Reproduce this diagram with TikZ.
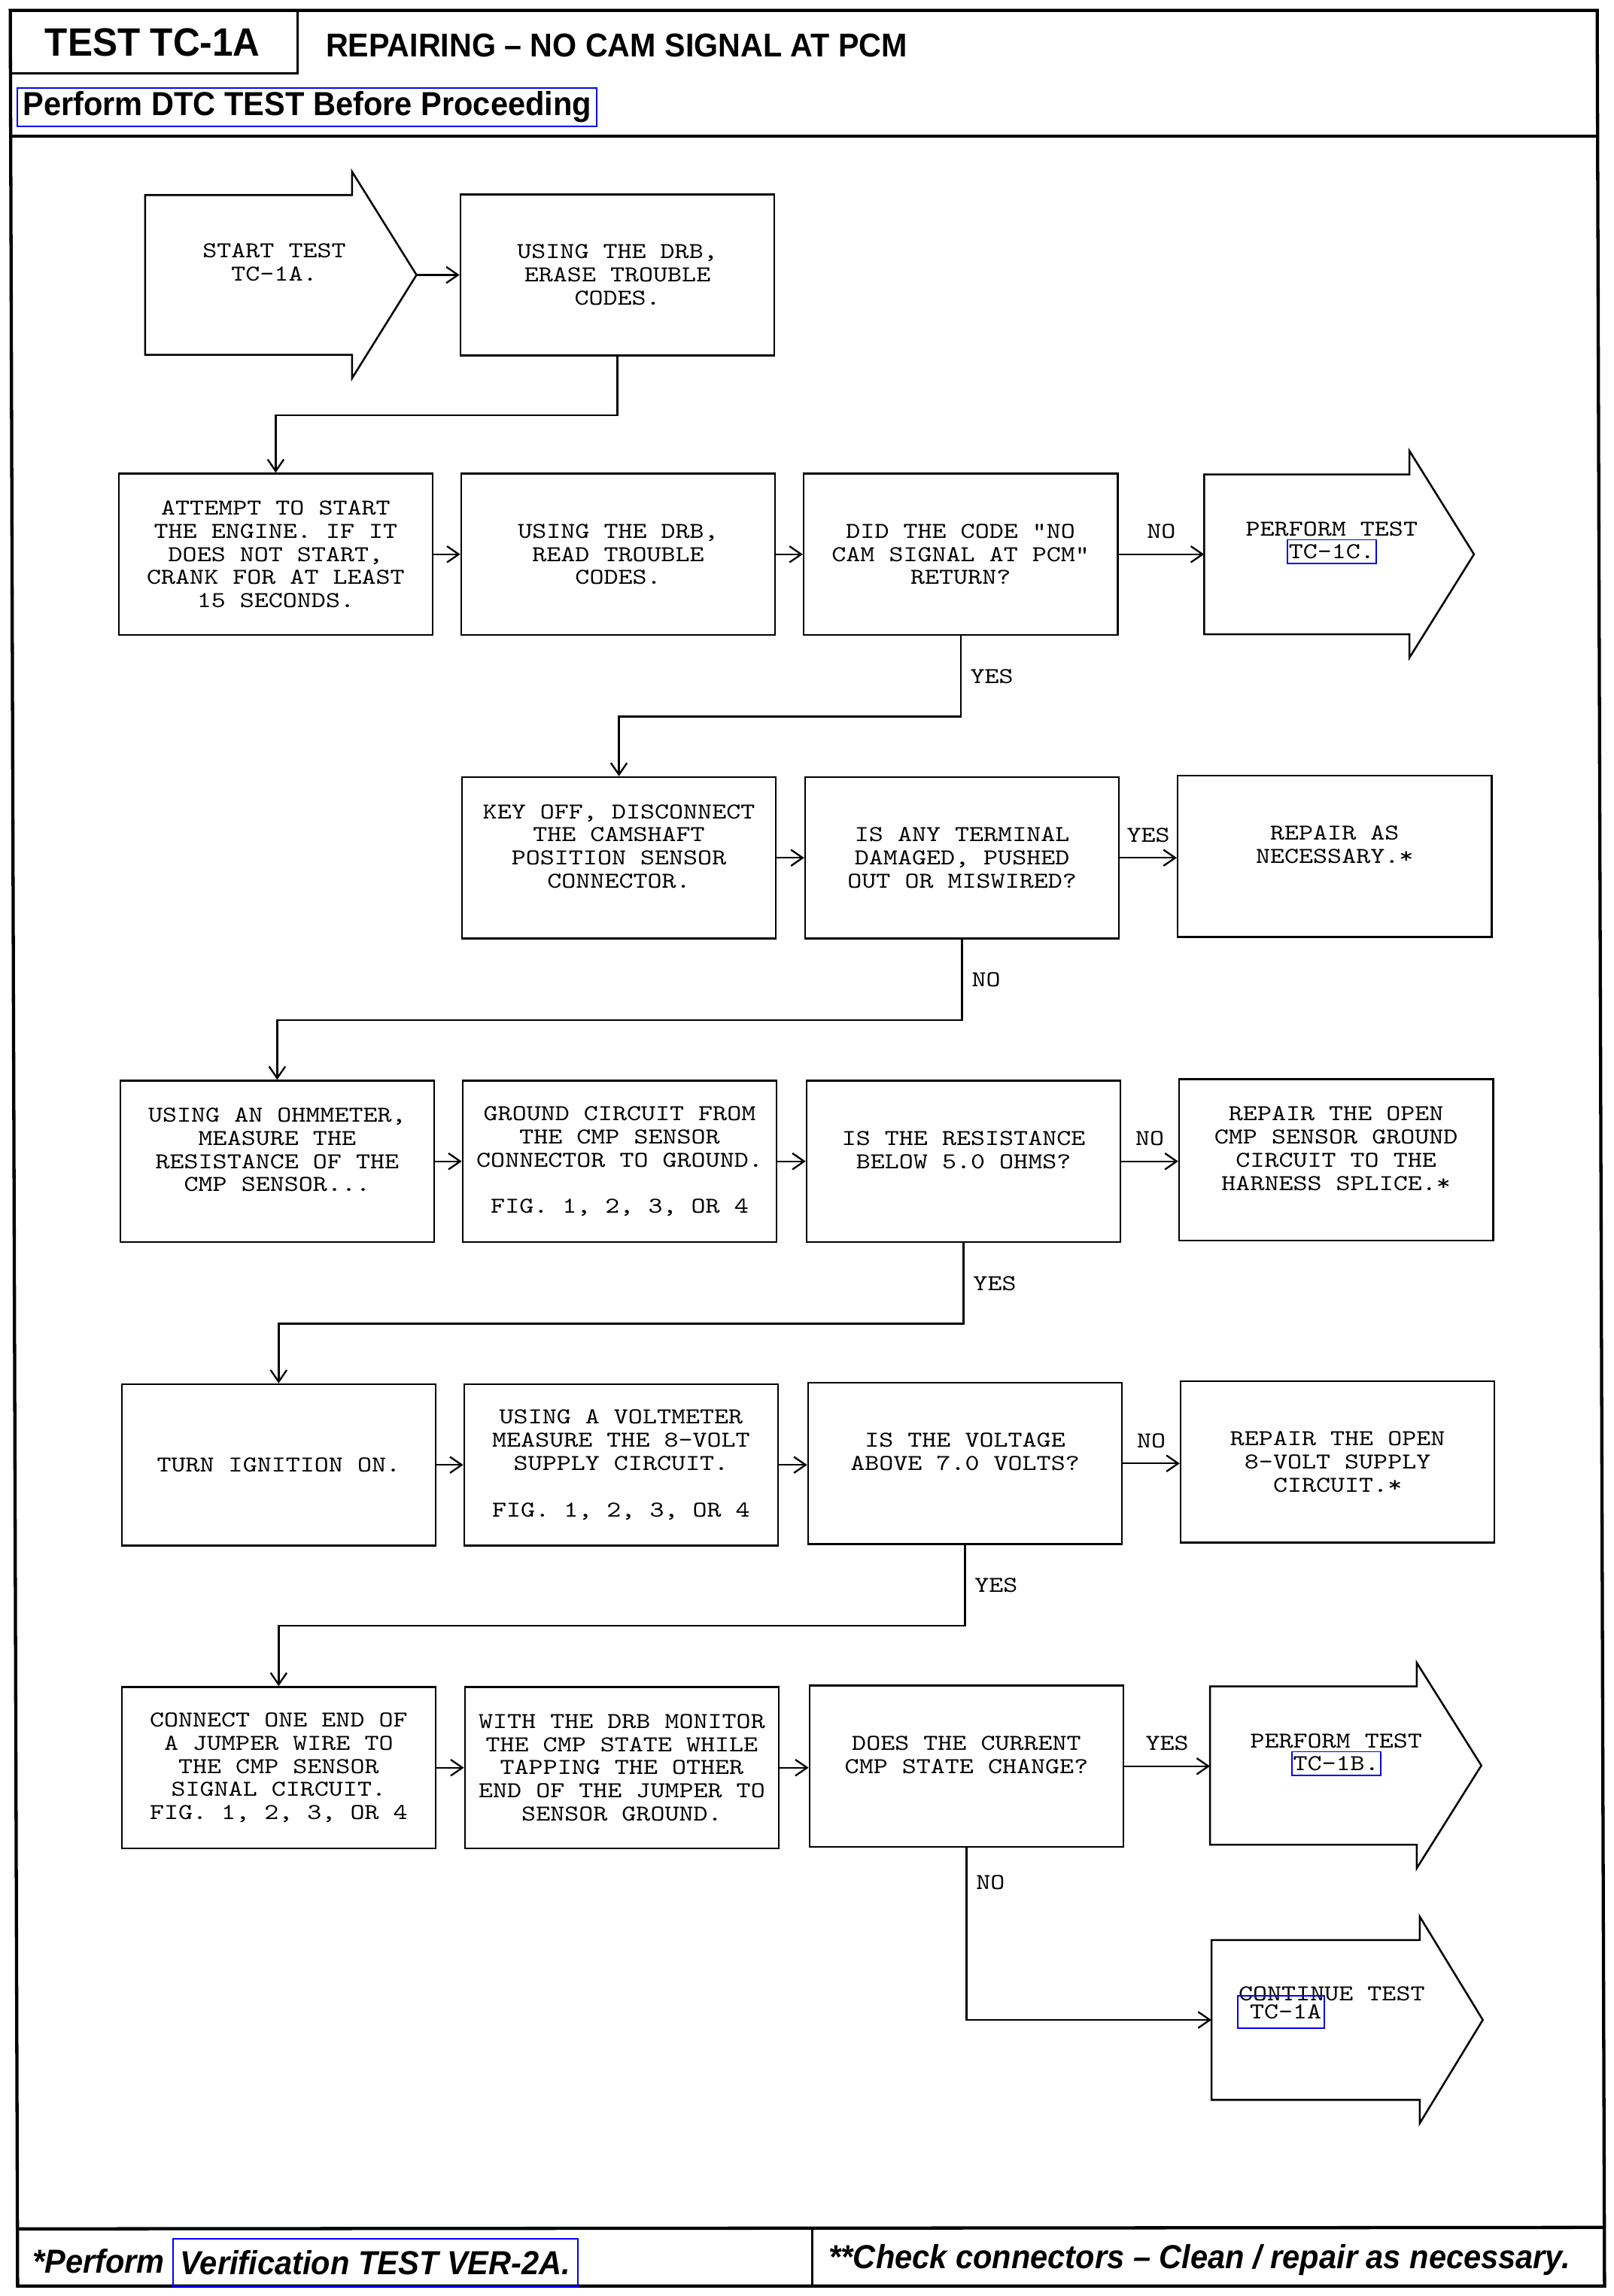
\documentclass[tikz,border=0pt]{standalone}
\usepackage{fontspec}
\usetikzlibrary{positioning,arrows.meta}
\newfontfamily\boxfont[FakeStretch=1.2]{lmmono10-regular.otf}
\newfontfamily\hdrfont[FakeStretch=0.94]{Liberation Sans}
\newcommand\boxsize{\boxfont\fontsize{15.5}{15.8}\selectfont}
\newcommand\hdrsize[1]{\hdrfont\bfseries\fontsize{#1}{#1}\selectfont}

\tikzset{
  stepbox/.style={draw, line width=1.3pt, minimum width=214pt, minimum height=110pt, inner sep=0pt, align=center, font=\boxsize},
  arrowshape/.style={draw, line width=1.3pt},
  txt/.style={inner sep=0pt, align=center, font=\boxsize},
  reflink/.style={draw=blue, line width=1pt, inner xsep=1pt, inner ysep=0pt, minimum height=16pt, font=\boxsize},
  lbl/.style={inner sep=2pt, font=\boxsize},
  flow/.style={->, line width=1.2pt},
  frame/.style={line width=2.2pt},
  hdr/.style={inner sep=0pt}
}

\begin{document}
\begin{tikzpicture}[x=1pt, y=-1pt, >={Straight Barb[length=8pt,width=11pt]}]
\useasboundingbox (0,0) rectangle (1100,1565.8);

% page frame, header and footer
\draw[frame] (7,7) -- (1089,7) -- (1094,1559) -- (12,1559) -- cycle;
\draw[frame] (7,93) -- (1089.3,93);
\draw[frame] (11.8,1520) -- (1093.9,1519);
\draw[line width=1.5pt] (554,1520) -- (554,1559);
\draw[line width=1.5pt] (7,7) rectangle (203,50);

\node[hdr, font={\hdrsize{27}}] (testid) at (104,29) {TEST TC-1A};
\node[hdr, anchor=west, font={\hdrsize{22.5}}] (ttl) at (222,31) {REPAIRING – NO CAM SIGNAL AT PCM};
\node[hdr, draw=blue, line width=1pt, minimum width=395pt, minimum height=26pt, font={\hdrsize{22.7}}] (dtc) at (209.5,73) {Perform DTC TEST Before Proceeding};

\node[hdr, anchor=base west, font={\hdrsize{22.7}\itshape}] (perf) at (22,1550) {*Perform};
\node[hdr, anchor=base, draw=blue, line width=1pt, minimum width=276pt, minimum height=32pt, font={\hdrsize{22.7}\itshape}] (ver) at (256,1551) {Verification TEST VER-2A.};
\node[hdr, anchor=base, font={\hdrsize{22.7}\itshape}] (chk) at (818,1547) {**Check connectors – Clean / repair as necessary.};

% row 1
\draw[arrowshape] (99,133) -- ++(141,0) -- ++(0,-16) -- ++(44,70.5) -- ++(-44,70.5) -- ++(0,-16) -- ++(-141,0) -- cycle;
\coordinate (starttip) at (284,187.5);
\node[txt] (start) at (187,179) {START TEST\\TC-1A.};
\node[stepbox] (B1) at (421,187.5) {USING THE DRB,\\ERASE TROUBLE\\CODES.};

% row 2
\node[stepbox] (A1) at (188,378) {ATTEMPT TO START\\THE ENGINE. IF IT\\DOES NOT START,\\CRANK FOR AT LEAST\\15 SECONDS.};
\node[stepbox] (A2) at (421.5,378) {USING THE DRB,\\READ TROUBLE\\CODES.};
\node[stepbox] (A3) at (655,378) {DID THE CODE "NO\\CAM SIGNAL AT PCM"\\RETURN?};
\draw[arrowshape] (821,323.5) -- ++(140,0) -- ++(0,-16) -- ++(44,70.5) -- ++(-44,70.5) -- ++(0,-16) -- ++(-140,0) -- cycle;
\coordinate (pfc) at (821,378);
\node[txt] (pfctxt) at (908,361) {PERFORM TEST};
\node[reflink, below=1.5pt of pfctxt] (tc1c) {TC-1C.};

% row 3
\node[stepbox] (C1) at (422,585) {KEY OFF, DISCONNECT\\THE CAMSHAFT\\POSITION SENSOR\\CONNECTOR.\\ \mbox{}};
\node[stepbox] (C2) at (656,585) {IS ANY TERMINAL\\DAMAGED, PUSHED\\OUT OR MISWIRED?};
\node[stepbox] (C3) at (910,584) {REPAIR AS\\NECESSARY.*\\ \mbox{}};

% row 4
\node[stepbox] (D1) at (189,792) {USING AN OHMMETER,\\MEASURE THE\\RESISTANCE OF THE\\CMP SENSOR...\\ \mbox{}};
\node[stepbox] (D2) at (422.5,792) {GROUND CIRCUIT FROM\\THE CMP SENSOR\\CONNECTOR TO GROUND.\\ \mbox{}\\FIG. 1, 2, 3, OR 4};
\node[stepbox] (D3) at (657,792) {IS THE RESISTANCE\\BELOW 5.0 OHMS?\\ \mbox{}};
\node[stepbox] (D4) at (911,791) {REPAIR THE OPEN\\CMP SENSOR GROUND\\CIRCUIT TO THE\\HARNESS SPLICE.*\\ \mbox{}};

% row 5
\node[stepbox] (E1) at (190,999) {TURN IGNITION ON.};
\node[stepbox] (E2) at (423.5,999) {USING A VOLTMETER\\MEASURE THE 8-VOLT\\SUPPLY CIRCUIT.\\ \mbox{}\\FIG. 1, 2, 3, OR 4};
\node[stepbox] (E3) at (658,998) {IS THE VOLTAGE\\ABOVE 7.0 VOLTS?\\ \mbox{}};
\node[stepbox] (E4) at (912,997) {REPAIR THE OPEN\\8-VOLT SUPPLY\\CIRCUIT.*};

% row 6
\node[stepbox] (F1) at (190,1205.5) {CONNECT ONE END OF\\A JUMPER WIRE TO\\THE CMP SENSOR\\SIGNAL CIRCUIT.\\FIG. 1, 2, 3, OR 4};
\node[stepbox] (F2) at (424,1205.5) {WITH THE DRB MONITOR\\THE CMP STATE WHILE\\TAPPING THE OTHER\\END OF THE JUMPER TO\\SENSOR GROUND.};
\node[stepbox] (F3) at (659,1204.5) {DOES THE CURRENT\\CMP STATE CHANGE?\\ \mbox{}};
\draw[arrowshape] (825,1150) -- ++(141,0) -- ++(0,-16) -- ++(44,70) -- ++(-44,70) -- ++(0,-16) -- ++(-141,0) -- cycle;
\coordinate (pfb) at (825,1204.5);
\node[txt] (pfbtxt) at (911,1187.5) {PERFORM TEST};
\node[reflink, below=1.5pt of pfbtxt] (tc1b) {TC-1B.};

% row 7
\draw[arrowshape] (826,1323) -- ++(142,0) -- ++(0,-16) -- ++(43,70.5) -- ++(-43,70.5) -- ++(0,-16) -- ++(-142,0) -- cycle;
\coordinate (cnt) at (826,1377.5);
\node[txt] (cnttxt) at (908,1359.5) {CONTINUE TEST};
\node[reflink, minimum width=59pt, minimum height=22pt, text width=55pt, align=right] (tc1a) at (873.5,1372) {TC-1A};

% connectors
\draw[flow] (starttip) -- (B1);
\draw[flow] (B1.south) -- ++(0,40) -| (A1.north);
\draw[flow] (A1) -- (A2);
\draw[flow] (A2) -- (A3);
\draw[flow] (A3) -- node[lbl, above=8pt] {NO} (pfc);
\draw[flow] (A3.south) -- node[lbl, right=4pt] {YES} ++(0,55) -| (C1.north);
\draw[flow] (C1) -- (C2);
\draw[flow] (C2.east) -- node[lbl, above=8pt] {YES} (C3.west |- C2.east);
\draw[flow] (C2.south) -- node[lbl, right=4pt] {NO} ++(0,55) -| (D1.north);
\draw[flow] (D1) -- (D2);
\draw[flow] (D2) -- (D3);
\draw[flow] (D3.east) -- node[lbl, above=8pt] {NO} (D4.west |- D3.east);
\draw[flow] (D3.south) -- node[lbl, right=4pt] {YES} ++(0,55) -| (E1.north);
\draw[flow] (E1) -- (E2);
\draw[flow] (E2.east) -- (E3.west |- E2.east);
\draw[flow] (E3.east) -- node[lbl, above=8pt] {NO} (E4.west |- E3.east);
\draw[flow] (E3.south) -- node[lbl, right=4pt] {YES} ++(0,55) -| (F1.north);
\draw[flow] (F1) -- (F2.west |- F1.east);
\draw[flow] (F2.east) -- (F3.west |- F2.east);
\draw[flow] (F3) -- node[lbl, above=8pt] {YES} (pfb);
\draw[flow] (F3.south) -- node[lbl, right=4pt, pos=0.2] {NO} (F3.south |- cnt) -- (cnt);
\end{tikzpicture}
\end{document}
